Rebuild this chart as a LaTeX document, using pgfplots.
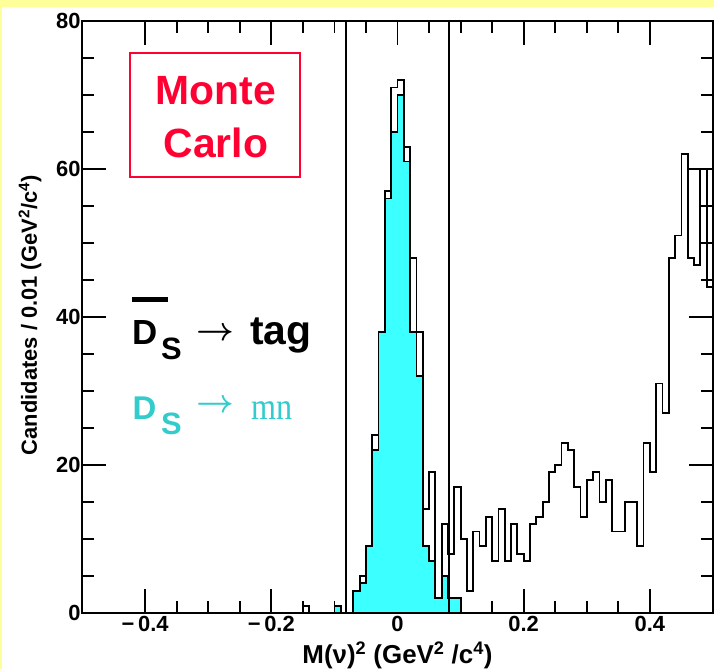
\documentclass[border=0pt]{standalone}
\usepackage{amsmath}
\usepackage{pgfplots}
\pgfplotsset{compat=1.18}
\usepackage{pgfplotstable}
\usepackage{graphicx}
\usepackage{fontspec}
\setmainfont{Liberation Sans}
\newfontfamily\seriffont{Liberation Serif}
\definecolor{yellowbg}{RGB}{255,255,153}
\definecolor{cyanfill}{RGB}{60,255,255}
\definecolor{cyantext}{RGB}{51,204,204}
\definecolor{mcred}{RGB}{255,0,51}
\newcommand{\arr}{\scalebox{3.3}{$\boldsymbol{\rightarrow}$}}

\pgfplotstableread{
x y
-0.16 0
-0.15 1
-0.14 0
-0.13 0
-0.12 0
-0.11 0
-0.10 1
-0.09 0
-0.08 0
-0.07 3
-0.06 5
-0.05 9
-0.04 24
-0.03 38
-0.02 57
-0.01 71
0.00 72
0.01 63
0.02 48
0.03 38
0.04 14
0.05 19
0.06 2
0.07 12
0.08 8
0.09 17
0.10 10
0.11 3
0.12 11
0.13 9
0.14 13
0.15 7
0.16 14
0.17 7
0.18 12
0.19 8
0.20 7
0.21 12
0.22 13
0.23 15
0.24 19
0.25 20
0.26 23
0.27 22
0.28 17
0.29 13
0.30 18
0.31 19
0.32 15
0.33 18
0.34 11
0.35 11
0.36 15
0.37 15
0.38 9
0.39 23
0.40 19
0.41 31
0.42 27
0.43 48
0.44 51
0.45 62
0.46 48
0.47 47
0.48 60
0.49 44
0.50 44
}\totaldata

\pgfplotstableread{
x y
-0.11 0
-0.10 1
-0.09 0
-0.08 0
-0.07 3
-0.06 4
-0.05 9
-0.04 22
-0.03 38
-0.02 56
-0.01 65
0.00 70
0.01 61
0.02 38
0.03 32
0.04 9
0.05 7
0.06 2
0.07 5
0.08 2
0.09 2
0.10 0
}\signaldata

\begin{document}
\begin{tikzpicture}
\path[use as bounding box] (0,0) rectangle (714bp,669bp);
\fill[yellowbg] (0,0) rectangle (714bp,669bp);
\fill[white] (2bp,0) rectangle (714bp,662bp);
\begin{axis}[
  at={(82bp,56bp)}, anchor=south west,
  scale only axis, width=631bp, height=592bp,
  xmin=-0.5, xmax=0.5, ymin=0, ymax=80,
  xtick={-0.4,-0.2,0,0.2,0.4},
  xticklabels={−\,0.4,−\,0.2,0,0.2,0.4},
  ytick={0,20,40,60,80},
  yticklabels={0,20,40,60,80},
  minor x tick num=3, minor y tick num=3,
  tick align=inside, tick pos=both,
  major tick length=24bp, minor tick length=12bp,
  axis line style={line width=1.8bp},
  every tick/.style={black, line width=1.8bp},
  ticklabel style={font=\bfseries\fontsize{22}{22}\selectfont},
  yticklabel style={xshift=2bp},
  xlabel={M(ν)\textsuperscript{2} (GeV\textsuperscript{2} /c\textsuperscript{4})},
  ylabel={Candidates / 0.01 (GeV\textsuperscript{2}/c\textsuperscript{4})},
  label style={font=\bfseries\fontsize{22}{22}\selectfont},
  xlabel style={font=\bfseries\fontsize{26}{26}\selectfont, at={(axis description cs:0.5,0)}, anchor=center, yshift=-42bp},
  ylabel style={at={(axis description cs:-0.0824,0.503)}, anchor=center},
]
\addplot[const plot, fill=cyanfill, draw=black, line width=1.8bp] table[x=x,y=y] {\signaldata} \closedcycle;
\addplot[const plot, draw=black, line width=1.8bp] table[x=x,y=y] {\totaldata};
\addplot[black, line width=1.8bp] coordinates {(-0.082,0) (-0.082,80)};
\addplot[black, line width=1.8bp] coordinates {(0.082,0) (0.082,80)};
\end{axis}
% Monte Carlo box
\draw[mcred, line width=1.5bp] (130bp,492bp) rectangle (300bp,616bp);
\node[anchor=base, inner sep=0, text=mcred] at (216bp,564bp) {\bfseries\fontsize{41}{41}\selectfont Monte};
\node[anchor=base, inner sep=0, text=mcred] at (216bp,511bp) {\bfseries\fontsize{41}{41}\selectfont Carlo};
% Ds bar -> tag
\node[anchor=base west, inner sep=0] at (132.5bp,324bp) {\bfseries\fontsize{35}{35}\selectfont D};
\node[anchor=base west, inner sep=0] at (161bp,309.7bp) {\bfseries\fontsize{31}{31}\selectfont S};
\fill[black] (131.7bp,367bp) rectangle (168.3bp,371.5bp);
\node[anchor=center, inner sep=0] at (215bp,334.7bp) {\arr};
\node[anchor=base west, inner sep=0] at (250bp,324bp) {\bfseries\fontsize{41}{41}\selectfont tag};
% Ds -> mu nu
\node[anchor=base west, inner sep=0, text=cyantext] at (132.5bp,249bp) {\bfseries\fontsize{33}{33}\selectfont D};
\node[anchor=base west, inner sep=0, text=cyantext] at (161bp,234bp) {\bfseries\fontsize{31}{31}\selectfont S};
\node[anchor=center, inner sep=0, text=cyantext] at (215bp,263bp) {\arr};
\node[anchor=base west, inner sep=0, text=cyantext] at (251bp,249bp) {\scalebox{0.85}[1]{\seriffont\fontsize{38}{38}\selectfont mn}};
\end{tikzpicture}
\end{document}
